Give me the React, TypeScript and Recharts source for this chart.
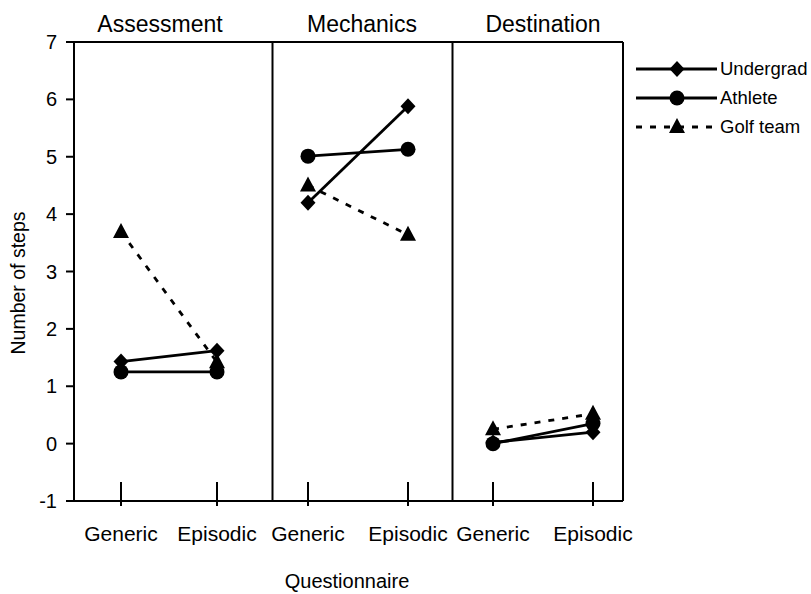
import { LineChart, Line, XAxis, YAxis, ReferenceLine, Legend } from 'recharts';

const panels = ['Assessment', 'Mechanics', 'Destination'];
const conditions = ['Generic', 'Episodic'];
const yTicks = [-1, 0, 1, 2, 3, 4, 5, 6, 7];

// [Generic, Episodic] per panel
const undergrad = [[1.43, 1.62], [4.2, 5.88], [0.02, 0.2]];
const athlete = [[1.25, 1.25], [5.01, 5.13], [0.0, 0.35]];
const golfTeam = [[3.69, 1.42], [4.5, 3.64], [0.25, 0.52]];

// x scale layout: slot of each condition inside each panel, panel dividers
const slotX = [[0.47, 1.43], [2.34, 3.34], [4.19, 5.19]];
const dividers = [1.985, 3.785];
const X_MAX = 5.49;

const FONT = '"Liberation Sans", Arial, Helvetica, sans-serif';

type Shape = 'diamond' | 'circle' | 'triangle';

const series: { name: string; values: number[][]; shape: Shape; dashed: boolean }[] = [
  { name: 'Golf team', values: golfTeam, shape: 'triangle', dashed: true },
  { name: 'Athlete', values: athlete, shape: 'circle', dashed: false },
  { name: 'Undergrad', values: undergrad, shape: 'diamond', dashed: false },
];
const legendOrder = ['Undergrad', 'Athlete', 'Golf team'];

function Marker({ shape, cx, cy }: { shape: Shape; cx: number; cy: number }) {
  if (shape === 'circle') return <circle cx={cx} cy={cy} r={7.5} fill="#000" />;
  if (shape === 'diamond')
    return <polygon points={`${cx},${cy - 8} ${cx + 7.5},${cy} ${cx},${cy + 8} ${cx - 7.5},${cy}`} fill="#000" />;
  return <polygon points={`${cx},${cy - 9} ${cx + 8},${cy + 6} ${cx - 8},${cy + 6}`} fill="#000" />;
}

const tickPositions = slotX.flat();

function XTick(props: any) {
  const { x, y, payload } = props;
  const idx = tickPositions.indexOf(payload.value);
  return (
    <g>
      <line x1={x} x2={x} y1={y - 19} y2={y + 5} stroke="#000" strokeWidth={2} />
      <text x={x} y={y + 40} textAnchor="middle" fontSize={21} fontFamily={FONT} fill="#000">
        {conditions[idx % 2]}
      </text>
    </g>
  );
}

function LegendBox() {
  return (
    <svg width={181} height={90}>
      {legendOrder.map((name, i) => {
        const s = series.find(d => d.name === name)!;
        const y = 14 + i * 29;
        return (
          <g key={name}>
            <line x1={6} x2={87} y1={y} y2={y} stroke="#000" strokeWidth={2.8}
              strokeDasharray={s.dashed ? '6 8' : undefined} />
            <Marker shape={s.shape} cx={47} cy={y} />
            <text x={90} y={y + 6} fontSize={18.5} fontFamily={FONT} fill="#000">{name}</text>
          </g>
        );
      })}
    </svg>
  );
}

export default function App() {
  return (
    <div style={{ position: 'absolute', left: 0, top: 0, width: 811, height: 594, background: '#fff' }}>
      <LineChart width={811} height={594} margin={{ top: 42, right: 188, bottom: 33, left: 0 }}>
        <XAxis
          type="number"
          dataKey="x"
          domain={[0, X_MAX]}
          ticks={tickPositions}
          interval={0}
          allowDataOverflow
          tickLine={false}
          tickSize={0}
          tickMargin={0}
          tick={<XTick />}
          axisLine={{ stroke: '#000', strokeWidth: 2 }}
          height={60}
        />
        <YAxis
          type="number"
          domain={[-1, 7]}
          ticks={yTicks}
          interval={0}
          width={74}
          tickSize={8}
          tickMargin={9}
          tick={{ fontSize: 20, fill: '#000', fontFamily: FONT }}
          tickLine={{ stroke: '#000', strokeWidth: 2 }}
          axisLine={{ stroke: '#000', strokeWidth: 2 }}
        />
        <ReferenceLine y={7} stroke="#000" strokeWidth={2} />
        <ReferenceLine x={X_MAX} stroke="#000" strokeWidth={2} />
        {dividers.map(d => (
          <ReferenceLine key={d} x={d} stroke="#000" strokeWidth={2} />
        ))}
        {series.map(s =>
          s.values.map((pair, p) => (
            <Line
              key={`${s.name}-${p}`}
              data={pair.map((v, c) => ({ x: slotX[p][c], y: v }))}
              dataKey="y"
              name={s.name}
              stroke="#000"
              strokeWidth={2.8}
              strokeDasharray={s.dashed ? '6 8' : undefined}
              dot={(d: any) => <Marker key={`${s.name}-${p}-${d.index}`} shape={s.shape} cx={d.cx} cy={d.cy} />}
              activeDot={false}
              legendType="none"
              isAnimationActive={false}
            />
          ))
        )}
        <Legend
          layout="vertical"
          align="center"
          verticalAlign="middle"
          content={() => <LegendBox />}
          wrapperStyle={{ left: 630, top: 55, width: 181, height: 90 }}
        />
      </LineChart>
      <svg width={811} height={594} style={{ position: 'absolute', left: 0, top: 0, pointerEvents: 'none' }}>
        {panels.map((t, i) => (
          <text key={t} x={[160, 362, 543][i]} y={32} textAnchor="middle" fontSize={23} fontFamily={FONT} fill="#000">
            {t}
          </text>
        ))}
        <text x={347} y={588} textAnchor="middle" fontSize={20} fontFamily={FONT} fill="#000">
          Questionnaire
        </text>
        <text
          x={0}
          y={0}
          transform="translate(25, 283) rotate(-90)"
          textAnchor="middle"
          fontSize={19.5}
          fontFamily={FONT}
          fill="#000"
        >
          Number of steps
        </text>
      </svg>
    </div>
  );
}
